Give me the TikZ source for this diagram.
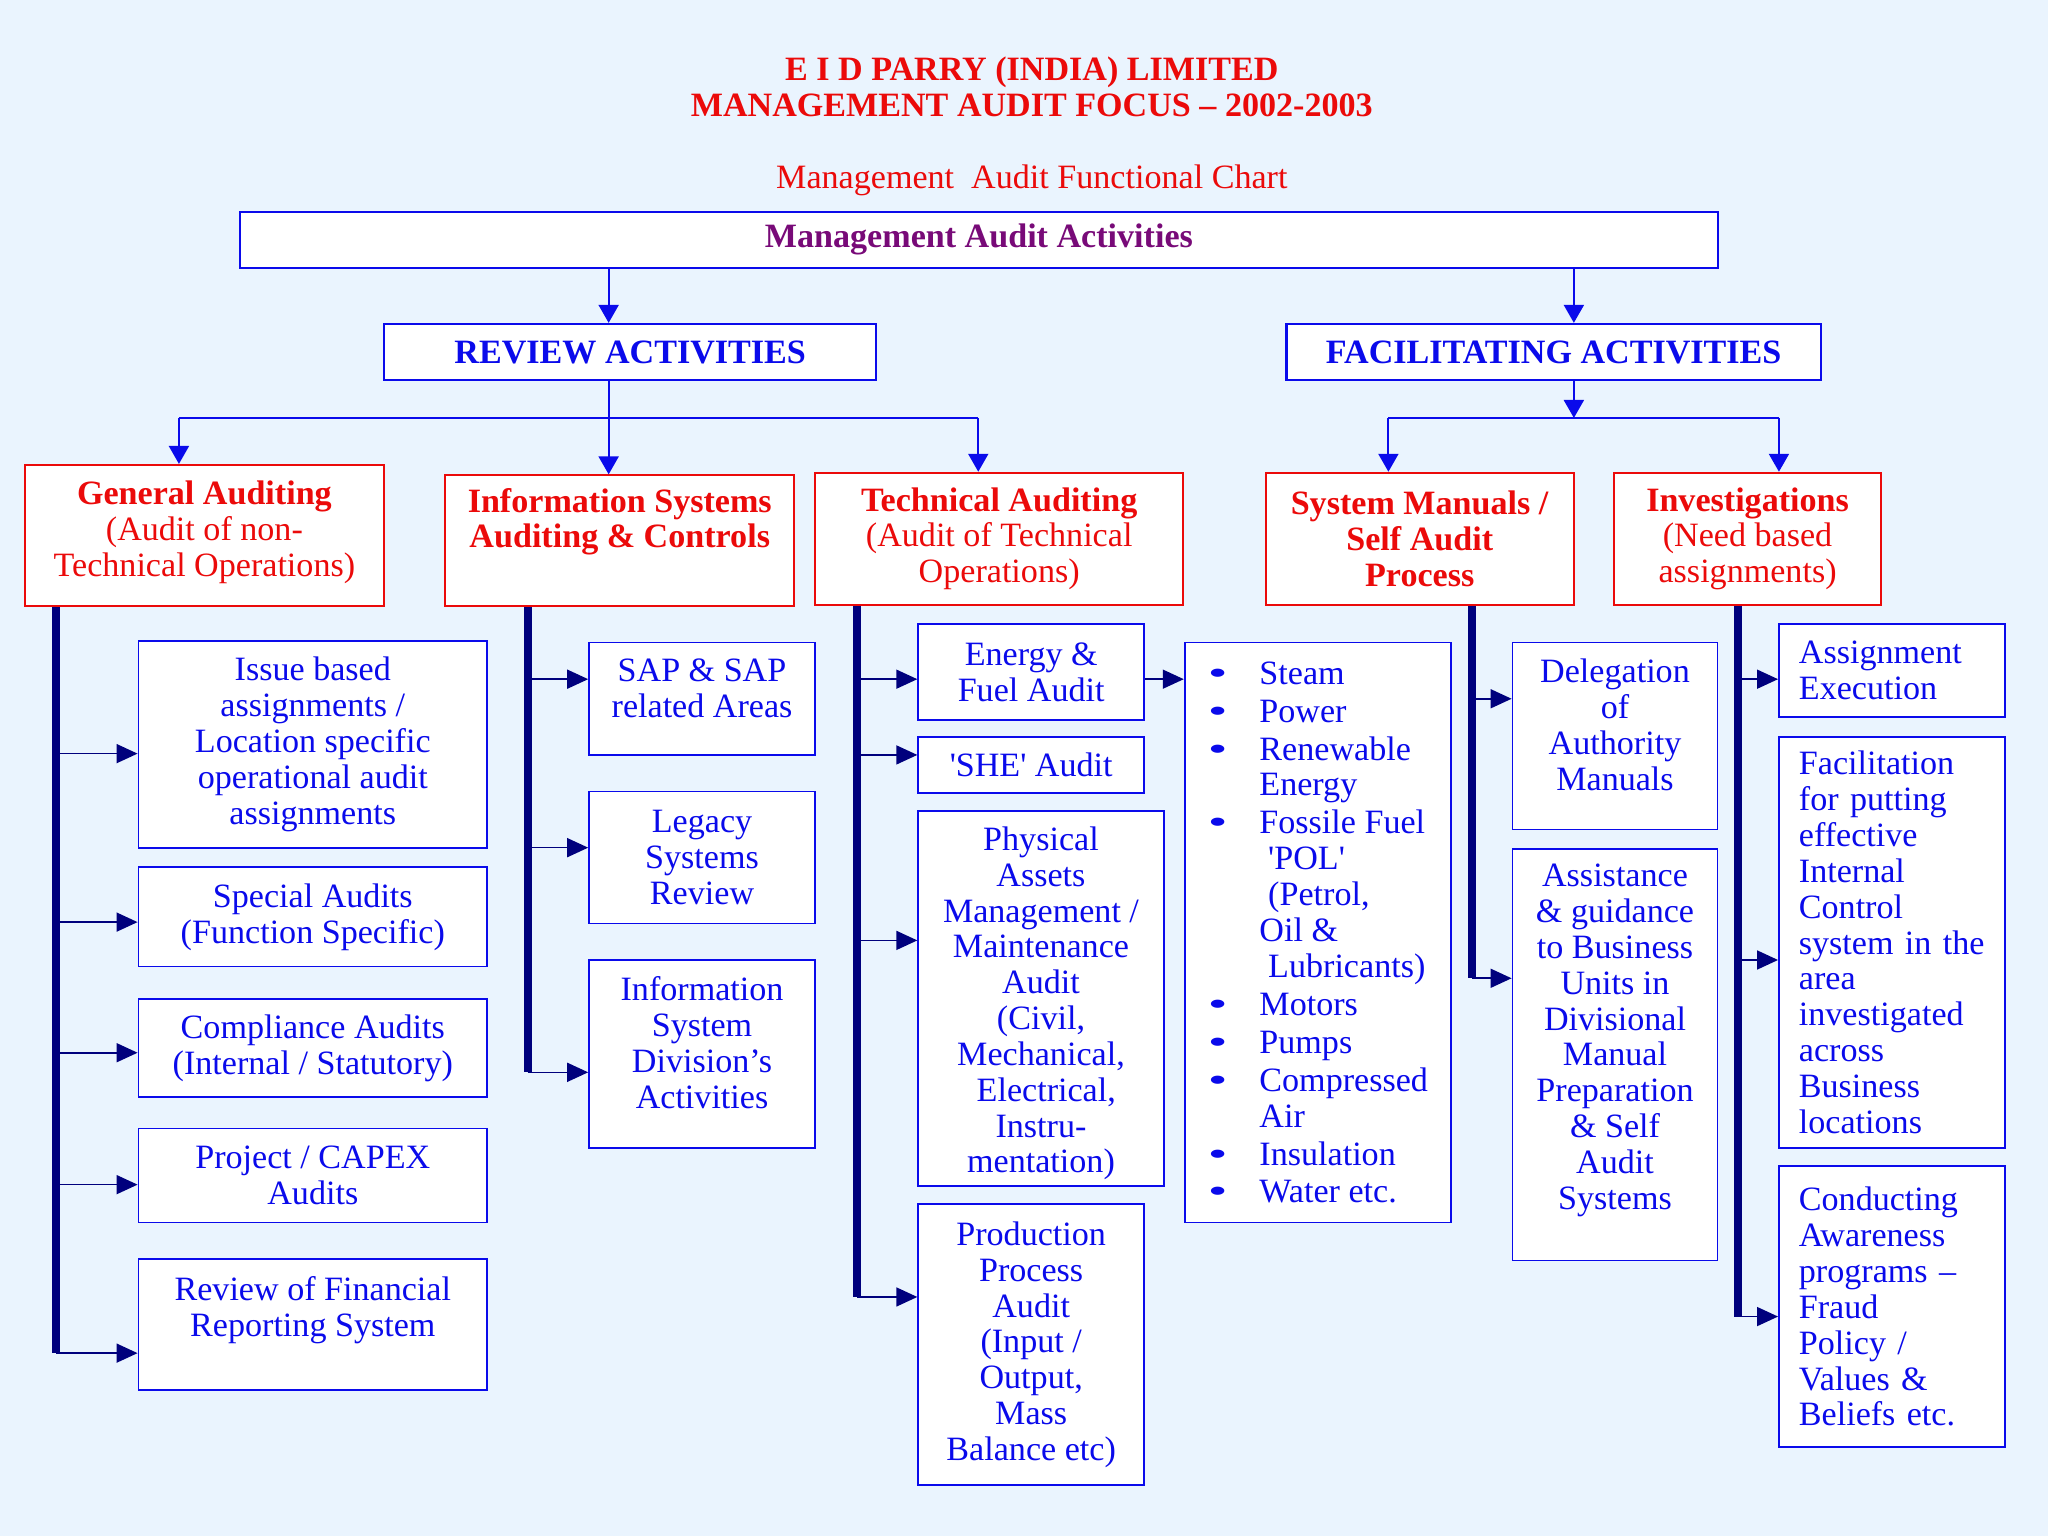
\documentclass[tikz,border=0pt]{standalone}
\usepackage{fontspec}
\usepackage{graphicx}
\setmainfont{Liberation Serif}
\usetikzlibrary{arrows.meta}
\definecolor{fondo}{RGB}{234, 244, 254}
\definecolor{azul}{RGB}{10, 10, 235}
\definecolor{rojo}{RGB}{235, 10, 10}
\definecolor{marino}{RGB}{0, 0, 125}
\definecolor{morado}{RGB}{120, 10, 120}
\newcommand{\px}{0.013061cm}
\newcommand{\bpad}[1]{\\[#1]\mbox{}}
\newcommand{\blt}{\scalebox{1.65}[1]{\textbullet}}
\tikzset{
    sz/.style 2 args={minimum width=#1*\px, minimum height=#2*\px},
    cbox/.style={inner sep=0pt, fill=white, align=center, font=\fontsize{9.7}{10.2}\selectfont},
    actv/.style={cbox, draw=azul, line width=0.6pt, font=\fontsize{9.7}{10.2}\selectfont\bfseries},
    brch/.style={cbox, draw=rojo, line width=0.6pt, text=rojo},
    leaf/.style={cbox, draw=azul, line width=0.5pt, text=azul},
    leafL/.style={leaf, align=left, text width=1.86cm},
    conn/.style={-{Triangle[length=0.18cm, width=0.2cm]}, azul, line width=0.6pt},
    twig/.style={-{Triangle[length=0.21cm, width=0.19cm]}, marino, line width=0.45pt},
    trunk/.style={marino, line width=2.3pt},
    titulo/.style={rojo, anchor=base, font=\fontsize{9.7}{10.2}\selectfont\bfseries},
}

\begin{document}
\begin{tikzpicture}[x=\px, y=-\px]
        \fill[fondo] (0,0) rectangle (1568,1176);

        \node[titulo] (tit1) at (790,62) {E I D PARRY (INDIA) LIMITED};
        \node[titulo] (tit2) at (790,89) {MANAGEMENT AUDIT FOCUS – 2002-2003};
        \node[titulo, font=\fontsize{9.7}{10.2}\selectfont] (tit3) at (790,144) {Management~~Audit Functional Chart};

        \node[actv, text=morado, sz={1131}{43}] (mgmt) at (749.5,183.5) {Management Audit Activities};
        \node[actv, text=azul, sz={377}{43}] (rev) at (482.5,269.5) {REVIEW ACTIVITIES};
        \node[actv, text=azul, sz={409}{43}] (fac) at (1189.5,269.5) {FACILITATING ACTIVITIES};

        % red heads
        \node[brch, sz={275}{108}] (gen) at (156.5,410) {\textbf{General Auditing}\\(Audit of non-\\Technical Operations)\bpad{-6.2pt}};
        \node[brch, sz={267}{100}] (isa) at (474.5,414) {\textbf{Information Systems}\\\textbf{Auditing \& Controls}\bpad{2.7pt}};
        \node[brch, sz={282}{101}] (tech) at (765,412.5) {\textbf{Technical Auditing}\\(Audit of Technical\\Operations)};
        \node[brch, sz={236}{101}] (sys) at (1087,412.5) {\textbf{System Manuals /}\\\textbf{Self Audit}\\\textbf{Process}};
        \node[brch, sz={204}{101}] (inv) at (1338,412.5) {\textbf{Investigations}\\(Need based\\assignments)};

        % leaves
        \node[leaf, sz={267}{158}] (gen1) at (239.5,570) {Issue based\\assignments /\\Location specific\\operational audit\\assignments};
        \node[leaf, sz={267}{76}] (gen2) at (239.5,702) {Special Audits\\(Function Specific)};
        \node[leaf, sz={267}{75}] (gen3) at (239.5,802.5) {Compliance Audits\\(Internal / Statutory)};
        \node[leaf, sz={267}{72}] (gen4) at (239.5,900) {Project / CAPEX\\Audits};
        \node[leaf, sz={267}{100}] (gen5) at (239.5,1014) {Review of Financial\\Reporting System\bpad{0pt}};

        \node[leaf, sz={173}{86}] (isa1) at (537.5,535) {SAP \& SAP\\related Areas\bpad{-4.2pt}};
        \node[leaf, sz={173}{101}] (isa2) at (537.5,656.5) {Legacy\\Systems\\Review};
        \node[leaf, sz={173}{144}] (isa3) at (537.5,807) {Information\\System\\Division’s\\Activities\bpad{-3.5pt}};

        \node[leaf, sz={173}{73}] (tech1) at (789.5,514.5) {Energy \&\\Fuel Audit};
        \node[leaf, sz={173}{43}] (tech2) at (789.5,585.5) {\textquotesingle SHE\textquotesingle{} Audit};
        \node[leaf, sz={188}{287}] (tech3) at (797,764.5) {\raisebox{-1.4pt}[\height][\depth]{\parbox{2.4cm}{\centering Physical\\Assets\\Management /\\Maintenance\\Audit\\(Civil,\\Mechanical,\\\hspace{3pt}Electrical,\\Instru-\\mentation)}}};
        \node[leaf, sz={173}{215}] (tech4) at (789.5,1029.5) {Production\\Process\\Audit\\(Input /\\Output,\\Mass\\Balance etc)};

        \node[leaf, align=left, sz={204}{444}] (fuel) at (1009,714) {\raisebox{-1.1pt}[\height][\depth]{\begin{tabular}{@{}c@{\hspace{0.32cm}}l@{}}
            \blt & Steam\\[0.6pt]
            \blt & Power\\[0.6pt]
            \blt & Renewable\\
                 & Energy\\[0.6pt]
            \blt & Fossile Fuel\\
                 & \hspace{2.5pt}\textquotesingle POL\textquotesingle\\
                 & \hspace{2.5pt}(Petrol,\\
                 & Oil \&\\
                 & \hspace{2.5pt}Lubricants)\\[0.6pt]
            \blt & Motors\\[0.6pt]
            \blt & Pumps\\[0.6pt]
            \blt & Compressed\\
                 & Air\\[0.6pt]
            \blt & Insulation\\[0.6pt]
            \blt & Water etc.
        \end{tabular}}};

        \node[leaf, sz={157}{143}] (sys1) at (1236.5,563.5) {Delegation\\of\\Authority\\Manuals\bpad{-3.9pt}};
        \node[leaf, sz={157}{315}] (sys2) at (1236.5,807.5) {Assistance\\\& guidance\\to Business\\Units in\\Divisional\\Manual\\Preparation\\\& Self\\Audit\\Systems\bpad{0pt}};

        \node[leafL, sz={173}{71}] (inv1) at (1448.5,513.5) {Assignment\\Execution};
        \node[leafL, sz={173}{315}] (inv2) at (1448.5,721.5) {Facilitation\\for putting\\effective\\Internal\\Control\\\mbox{system in the}\\area\\investigated\\across\\Business\\locations};
        \node[leafL, sz={173}{215}] (inv3) at (1448.5,1000.5) {Conducting\\Awareness\\programs –\\Fraud\\Policy /\\Values \&\\Beliefs etc.};

        % upper connectors
        \coordinate (rsplit) at (466,320);
        \coordinate (fsplit) at (1205,320);
        \coordinate (gsplit) at (137,320);
        \coordinate (tsplit) at (749,320);
        \coordinate (ssplit) at (1063,320);
        \coordinate (vsplit) at (1362,320);

        \draw[conn] (mgmt.south -| rsplit) -- (rev.north -| rsplit);
        \draw[conn] (mgmt.south -| fsplit) -- (fac.north -| fsplit);
        \draw[conn, -] (rev.south -| rsplit) -- (rsplit);
        \draw[conn] (fac.south -| fsplit) -- (fsplit);
        \draw[conn, -] (gsplit) -- (tsplit);
        \draw[conn, -] (ssplit) -- (vsplit);

        \draw[conn] (gsplit) -- (gen.north -| gsplit);
        \draw[conn] (rsplit) -- (isa.north -| rsplit);
        \draw[conn] (tsplit) -- (tech.north -| tsplit);
        \draw[conn] (ssplit) -- (sys.north -| ssplit);
        \draw[conn] (vsplit) -- (inv.north -| vsplit);

        % general auditing
        \coordinate (g1) at (43,577);
        \coordinate (g2) at (43,706);
        \coordinate (g3) at (43,806);
        \coordinate (g4) at (43,907);
        \coordinate (g5) at (43,1036);
        \draw[twig] (g1) -- (gen1.west |- g1);
        \draw[twig] (g2) -- (gen2.west |- g2);
        \draw[twig] (g3) -- (gen3.west |- g3);
        \draw[twig] (g4) -- (gen4.west |- g4);
        \draw[twig] (g5) -- (gen5.west |- g5);
        \draw[trunk] (gen.south -| g5) -- (g5);

        % information systems
        \coordinate (i1) at (404,520);
        \coordinate (i2) at (404,649);
        \coordinate (i3) at (404,821);
        \draw[twig] (i1) -- (isa1.west |- i1);
        \draw[twig] (i2) -- (isa2.west |- i2);
        \draw[twig] (i3) -- (isa3.west |- i3);
        \draw[trunk] (isa.south -| i3) -- (i3);

        % technical auditing
        \coordinate (t1) at (656,520);
        \coordinate (t2) at (656,578);
        \coordinate (t3) at (656,720);
        \coordinate (t4) at (656,993);
        \draw[twig] (t1) -- (tech1.west |- t1);
        \draw[twig] (t2) -- (tech2.west |- t2);
        \draw[twig] (t3) -- (tech3.west |- t3);
        \draw[twig] (t4) -- (tech4.west |- t4);
        \draw[trunk] (tech.south -| t4) -- (t4);
        \draw[twig] (tech1.east |- t1) -- (fuel.west |- t1);

        % system manuals
        \coordinate (s1) at (1127,535);
        \coordinate (s2) at (1127,749);
        \draw[twig] (s1) -- (sys1.west |- s1);
        \draw[twig] (s2) -- (sys2.west |- s2);
        \draw[trunk] (sys.south -| s2) -- (s2);

        % investigations
        \coordinate (v1) at (1331,520);
        \coordinate (v2) at (1331,735);
        \coordinate (v3) at (1331,1008);
        \draw[twig] (v1) -- (inv1.west |- v1);
        \draw[twig] (v2) -- (inv2.west |- v2);
        \draw[twig] (v3) -- (inv3.west |- v3);
        \draw[trunk] (inv.south -| v3) -- (v3);
\end{tikzpicture}
\end{document}
